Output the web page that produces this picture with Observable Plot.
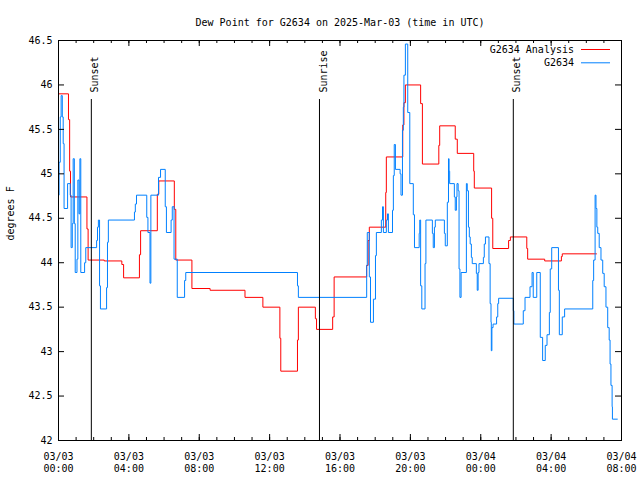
<!DOCTYPE html>
<html><head><meta charset="utf-8">
<script src="https://cdn.jsdelivr.net/npm/d3@7"></script>
<script src="https://cdn.jsdelivr.net/npm/@observablehq/plot@0.6"></script>
<style>body{margin:0;background:#fff} svg{display:block}</style>
</head><body><div id="chart"></div>
<script>
const titleText = "Dew Point for G2634 on 2025-Mar-03 (time in UTC)";
const yLabelText = "degrees F";
const startUTC = Date.UTC(2025, 2, 3, 0, 0);
const spanHours = 32;

// G2634 Analysis (minutes after 03/03 00:00 UTC, deg F)
const redMinutes = [0,34,38,41,97,101,156,216,222,276,280,337,342,395,400,455,517,636,697,755,758,815,818,876,880,935,940,1051,1056,1060,1116,1118,1174,1178,1183,1235,1241,1297,1300,1353,1360,1416,1418,1477,1481,1535,1541,1597,1600,1658,1715,1718,1835];
const redValues = [45.90,45.61,45.03,44.74,44.38,44.03,44.02,43.98,43.83,44.09,44.36,44.77,44.92,44.60,44.03,43.71,43.69,43.61,43.50,43.15,42.78,43.13,43.50,43.37,43.25,43.39,43.84,43.97,44.25,44.40,44.79,45.19,45.55,45.80,46.00,45.79,45.11,45.32,45.54,45.39,45.23,45.03,44.84,44.50,44.16,44.25,44.29,44.16,44.04,44.02,44.07,44.10,44.10];

// G2634 observations
const blueMinutes = [0,2,6,9,13,16,19,31,40,43,47,50,54,57,63,66,70,73,76,89,93,130,133,136,140,143,164,167,170,259,262,266,301,305,312,315,341,348,364,368,384,388,394,405,430,434,815,818,1051,1053,1060,1064,1074,1081,1084,1101,1105,1108,1118,1122,1125,1139,1142,1145,1149,1165,1168,1173,1176,1178,1183,1191,1198,1210,1214,1230,1232,1235,1239,1250,1253,1275,1278,1282,1285,1316,1319,1326,1330,1332,1334,1350,1353,1357,1359,1363,1366,1369,1373,1391,1394,1398,1401,1404,1408,1411,1425,1428,1431,1434,1449,1452,1456,1468,1472,1475,1476,1478,1482,1494,1498,1501,1551,1553,1585,1591,1608,1615,1619,1631,1643,1651,1660,1666,1674,1677,1682,1705,1708,1718,1726,1822,1825,1830,1833,1836,1839,1844,1850,1856,1861,1867,1873,1878,1881,1884,1888,1889,1906];
const blueValues = [44.76,45.13,45.64,45.88,45.64,45.34,44.61,44.89,44.76,44.17,44.44,45.17,44.44,43.89,44.04,44.93,44.55,45.17,43.89,44.00,44.17,44.25,44.40,44.48,43.74,43.48,43.72,44.23,44.48,44.57,44.66,44.76,44.51,44.34,43.77,44.76,44.96,45.05,44.63,44.34,44.48,44.63,44.04,43.61,43.80,43.89,43.74,43.61,43.97,44.34,43.84,43.33,43.59,44.08,44.34,44.48,44.63,44.34,44.48,44.55,44.34,44.59,44.98,45.33,45.05,45.00,44.76,45.49,45.75,46.11,46.46,45.69,44.89,44.54,44.17,44.33,44.48,43.74,43.48,43.99,44.48,44.33,44.17,44.40,44.48,44.33,44.19,44.68,45.17,45.03,44.89,44.74,44.59,44.74,44.89,44.81,43.93,43.61,43.89,44.89,44.81,44.40,44.29,44.21,44.06,43.99,43.88,43.69,43.89,43.99,44.06,44.21,44.29,43.99,43.54,43.33,43.01,43.27,43.31,43.39,43.54,43.60,43.46,43.31,43.46,43.61,43.73,43.89,43.61,43.89,43.16,42.90,43.07,43.19,43.44,43.93,44.17,43.69,43.19,43.39,43.48,43.80,44.03,44.76,44.61,44.40,44.33,44.17,44.03,43.88,43.73,43.50,43.27,43.13,42.86,42.62,42.38,42.24,42.24];

const eventLabels = ["Sunset", "Sunrise", "Sunset"];
const eventMinutes = [112, 890, 1551];

const yTicks = [42, 42.5, 43, 43.5, 44, 44.5, 45, 45.5, 46, 46.5];
const seriesNames = ["G2634 Analysis", "G2634"];
const seriesColors = ["#ff0000", "#0080ff"];

const toDate = m => new Date(startUTC + m * 60000);
const red = redMinutes.map((m, i) => ({t: toDate(m), v: redValues[i]}));
const blue = blueMinutes.map((m, i) => ({t: toDate(m), v: blueValues[i]}));
const events = eventMinutes.map((m, i) => ({t: toDate(m), label: eventLabels[i]}));

const FONT = "DejaVu Sans Mono";
const W = 640, H = 480, mL = 58, mR = 19, mT = 40, mB = 40;
const fw = W - mL - mR, fh = H - mT - mB;
const x0 = toDate(0), x1 = toDate(spanHours * 60);
const majorX = d3.utcHour.every(4).range(x0, new Date(+x1 + 1));
const minorX = d3.utcHour.range(x0, new Date(+x1 + 1));
const fmtD = d3.utcFormat("%m/%d"), fmtT = d3.utcFormat("%H:%M");

function legendMark(index, scales, values, dims) {
  const g = d3.create("svg:g").attr("font-family", FONT).attr("font-size", 10).attr("fill", "black");
  const right = dims.width - dims.marginRight;
  seriesNames.forEach((name, i) => {
    const y = 49.5 + i * 13.3;
    g.append("text").attr("x", right - 47).attr("y", y).attr("text-anchor", "end").attr("dy", "0.35em").text(name);
    g.append("line").attr("x1", right - 40).attr("x2", right - 11).attr("y1", y).attr("y2", y)
      .attr("stroke", seriesColors[i]).attr("stroke-width", 1);
  });
  return g.node();
}

const chart = Plot.plot({
  width: W, height: H,
  marginLeft: mL, marginRight: mR, marginTop: mT, marginBottom: mB,
  style: {fontFamily: FONT, fontSize: "10px", color: "black", background: "white"},
  x: {type: "utc", domain: [x0, x1]},
  y: {domain: [42, 46.5]},
  marks: [
    Plot.line(red, {x: "t", y: "v", curve: "step-after", stroke: seriesColors[0], strokeWidth: 1}),
    Plot.line(blue, {x: "t", y: "v", curve: "step-after", stroke: seriesColors[1], strokeWidth: 1}),
    Plot.ruleX(events, {x: "t", insetTop: 59, stroke: "black", strokeWidth: 1}),
    Plot.text(events, {x: "t", text: "label", frameAnchor: "top", rotate: -90, textAnchor: "start", dy: 52}),
    Plot.frame({stroke: "black"}),
    Plot.tickY(yTicks, {y: d => d, insetRight: fw - 6, stroke: "black"}),
    Plot.tickY(yTicks, {y: d => d, insetLeft: fw - 6, stroke: "black"}),
    Plot.tickX(majorX, {x: d => d, insetTop: fh - 6, stroke: "black"}),
    Plot.tickX(majorX, {x: d => d, insetBottom: fh - 6, stroke: "black"}),
    Plot.tickX(minorX, {x: d => d, insetTop: fh - 3, stroke: "black"}),
    Plot.tickX(minorX, {x: d => d, insetBottom: fh - 3, stroke: "black"}),
    Plot.axisY({ticks: yTicks, tickSize: 0, tickPadding: 6, label: null, tickFormat: d => String(d)}),
    Plot.axisX({ticks: majorX, tickSize: 0, tickPadding: 10, label: null, lineHeight: 1.27,
      tickFormat: d => fmtD(d) + "\n" + fmtT(d)}),
    Plot.text([titleText], {frameAnchor: "top", dy: -22}),
    Plot.text([yLabelText], {frameAnchor: "left", rotate: -90, dx: -48}),
    legendMark
  ]
});
document.getElementById("chart").append(chart);
</script>
</body></html>
